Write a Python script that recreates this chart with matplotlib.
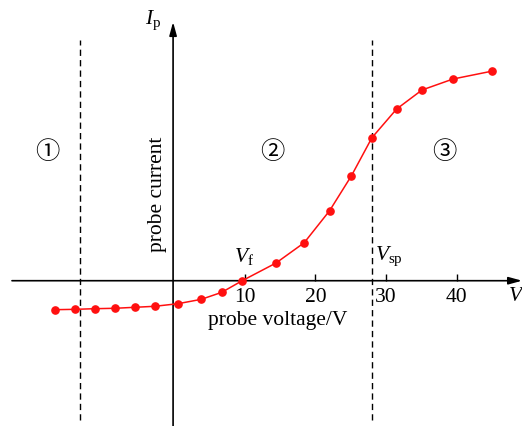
import matplotlib
matplotlib.use('Agg')
from matplotlib import pyplot as plt

# probe I-V curve (arbitrary current units)
voltage = [-16.9, -14.1, -11.3, -8.4, -5.6, -2.8, 0.5, 3.8, 6.7, 9.6,
           14.4, 18.4, 22.0, 25.1, 28.0, 31.5, 35.1, 39.5, 45.1]
current = [-4.11, -4.06, -3.97, -3.91, -3.77, -3.63, -3.26, -2.64, -1.65, 0.0,
           2.51, 5.39, 9.93, 14.89, 20.28, 24.35, 27.05, 28.61, 29.74]
xticks = [10, 20, 30, 40]
boundaries = [-13.4, 28.0]
regions = ['①', '②', '③']
region_x = [-18.1, 13.8, 38.2]

plt.rcParams['font.family'] = ['Liberation Serif', 'DejaVu Sans']
plt.rcParams['mathtext.fontset'] = 'custom'
plt.rcParams['mathtext.rm'] = 'Liberation Serif'
plt.rcParams['mathtext.it'] = 'Liberation Serif:italic'

fs = 15.5

fig = plt.figure(figsize=(5.22, 4.26), dpi=100)
ax = fig.add_axes([0, 0, 1, 1])
ax.set_xlim(-24.75, 49.29)
ax.set_ylim(-20.61, 39.82)

# axes through origin
for s in ['top', 'right']:
    ax.spines[s].set_visible(False)
ax.spines['bottom'].set_position(('data', 0))
ax.spines['left'].set_position(('data', 0))
ax.spines['bottom'].set_color('none')
ax.spines['left'].set_color('none')
ax.set_yticks([])
ax.set_xticks(xticks)
ax.tick_params(axis='x', direction='in', length=5, width=1, pad=5.5, labelsize=fs)
ax.annotate('', xy=(49.3, 0), xytext=(-23.05, 0),
            arrowprops=dict(arrowstyle='-|>,head_length=0.8,head_width=0.22', color='black', lw=1.2, shrinkA=0, shrinkB=0))
ax.annotate('', xy=(-0.2, 36.7), xytext=(-0.2, -20.61),
            arrowprops=dict(arrowstyle='-|>,head_length=0.8,head_width=0.22', color='black', lw=1.2, shrinkA=0, shrinkB=0))

ax.vlines(boundaries, -19.76, 34.1, colors='black', linestyles=(0, (4.5, 3)), lw=1)

ax.plot(voltage, current, color='#ff1010', lw=1.1, marker='o', ms=5.2, zorder=3)

for r, x in zip(regions, region_x):
    ax.text(x, 18.3, r, fontsize=17.5, ha='center', va='center', family=['Noto Sans CJK SC', 'DejaVu Sans'])

ax.text(-2.4, 12.3, 'probe current', rotation=90, fontsize=fs, ha='center', va='center')
ax.text(14.7, -5.7, 'probe voltage/V', fontsize=fs, ha='center', va='center')
ax.text(9.8, 3.5, r'$V_{\mathrm{f}}$', fontsize=fs, ha='center', va='center')
ax.text(28.5, 3.5, r'$V_{\mathrm{sp}}$', fontsize=fs, ha='left', va='center')
ax.text(-3.0, 37.0, r'$I_{\mathrm{p}}$', fontsize=fs, ha='center', va='center')
ax.text(47.3, -2.4, r'$V_{\mathrm{p}}$', fontsize=fs, ha='left', va='center')

fig.savefig('out.png', dpi=100)
